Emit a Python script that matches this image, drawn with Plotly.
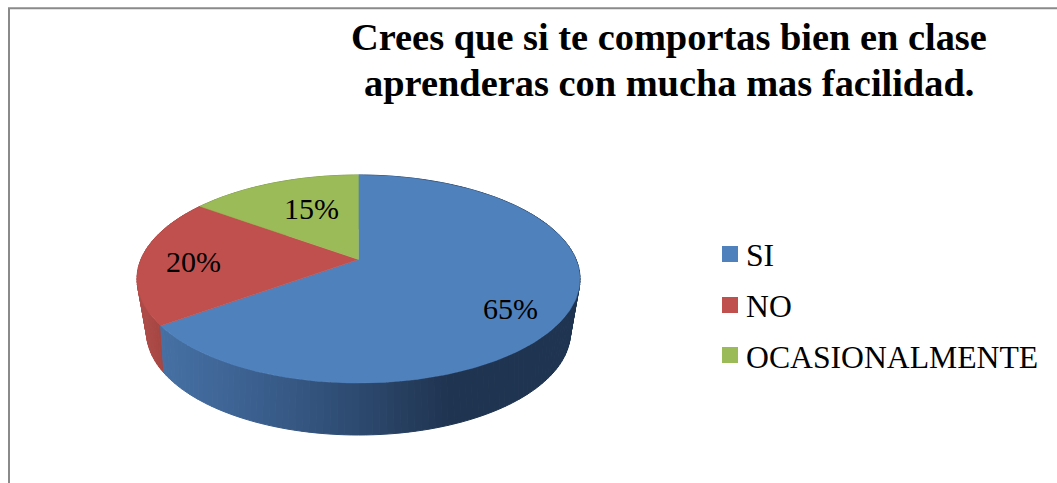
import numpy as np
import plotly.graph_objects as go

categorias = ["SI", "NO", "OCASIONALMENTE"]
valores = [65, 20, 15]
colores = ["#4f81bd", "#c0504d", "#9bbb59"]
titulo = ["Crees que si te comportas bien en clase", "aprenderas con mucha mas facilidad."]

# geometria del pastel 3d (pixeles de la pagina)
cx = 358.5
sup = dict(cy=279, rx=221.5, ry=104, k=0.1875)
inf = dict(cy=332, rx=212, ry=103, k=0.25)
pos_etiquetas = [(510, 308), (193, 261), (311, 208)]
pos_titulo = [(669, 37), (669, 83)]
pos_cuadros = [(730, 254), (730, 305), (730, 355)]
pos_leyenda = [(744, 255), (744, 306), (744, 357)]

# degradado de la pared lateral segun x
paredes = [
    ([165, 250, 350, 450, 580], ["#4670a3", "#3c6191", "#2e4c72", "#203450", "#1f3552"]),
    ([137, 165], ["#b14e4b", "#a44542"]),
    ([137, 358], ["#7f9a49", "#7f9a49"]),
]


def proyectar(theta, e):
    # theta en grados, horario desde arriba; perspectiva que lleva el centro al vertice
    u, v = np.sin(np.radians(theta)), np.cos(np.radians(theta))
    d = 1 + e["k"] * v
    x = cx + e["rx"] * np.sqrt(1 - e["k"] ** 2) * u / d
    y = e["cy"] - e["ry"] * (v + e["k"]) / d
    return x, y


def color_en(x, pared):
    xs, cols = pared
    rgb = [[int(c[i:i + 2], 16) for c in cols] for i in (1, 3, 5)]
    return "rgb(%d,%d,%d)" % tuple(np.interp(x, xs, canal) for canal in rgb)


fig = go.Figure()

total = sum(valores)
limites = np.concatenate([[0], np.cumsum(valores) / total * 360])

# paredes, de atras hacia adelante
for i in [2, 1, 0]:
    angulos = np.arange(limites[i], limites[i + 1], 1.5).tolist() + [limites[i + 1]]
    for a, b in zip(angulos[:-1], angulos[1:]):
        x1, y1 = proyectar(a, sup)
        x2, y2 = proyectar(b, sup)
        x3, y3 = proyectar(b, inf)
        x4, y4 = proyectar(a, inf)
        col = color_en((x1 + x2 + x3 + x4) / 4, paredes[i])
        fig.add_trace(go.Scatter(x=[x1, x2, x3, x4, x1], y=[y1, y2, y3, y4, y1], mode="lines",
                                 fill="toself", fillcolor=col, line=dict(color=col, width=1),
                                 hoverinfo="skip", showlegend=False))

# cara superior
vy = sup["cy"] - sup["ry"] * sup["k"]
for i in range(3):
    angulos = np.arange(limites[i], limites[i + 1], 1).tolist() + [limites[i + 1]]
    xs, ys = proyectar(np.array(angulos), sup)
    fig.add_trace(go.Scatter(x=[cx] + xs.tolist() + [cx], y=[vy] + ys.tolist() + [vy],
                             mode="lines", fill="toself", fillcolor=colores[i],
                             line=dict(color=colores[i], width=0.5),
                             name=categorias[i], hoverinfo="name", showlegend=False))

# leyenda dibujada a mano: la nativa deja 5 px de mas entre cuadro y texto
for i in range(3):
    fig.add_trace(go.Scatter(x=[pos_cuadros[i][0]], y=[pos_cuadros[i][1]], mode="markers",
                             marker=dict(symbol="square", size=16, color=colores[i]),
                             name=categorias[i], hoverinfo="name", showlegend=False))
    fig.add_annotation(x=pos_leyenda[i][0], y=pos_leyenda[i][1], text=categorias[i], showarrow=False,
                       xanchor="left", font=dict(size=31.7, color="black"))

# etiquetas de porcentaje
for v, (px, py) in zip(valores, pos_etiquetas):
    fig.add_annotation(x=px, y=py, text="%d%%" % round(v / total * 100), showarrow=False,
                       font=dict(size=30, color="black"))

# titulo, una anotacion por linea para fijar el interlineado
for linea, (px, py) in zip(titulo, pos_titulo):
    fig.add_annotation(x=px, y=py, text=linea, showarrow=False,
                       font=dict(size=38.4, color="black", weight="bold"))

# marco del grafico
fig.add_shape(type="rect", x0=9, y0=8.3, x1=1100, y1=520, line=dict(color="#8a8a8a", width=2),
              fillcolor="rgba(0,0,0,0)", layer="below")

fig.update_layout(
    width=1057,
    height=483,
    margin=dict(l=0, r=0, t=0, b=0),
    paper_bgcolor="white",
    plot_bgcolor="white",
    font=dict(family="Liberation Serif", color="black"),
    xaxis=dict(range=[0, 1057], visible=False, fixedrange=True),
    yaxis=dict(range=[483, 0], visible=False, fixedrange=True),
    showlegend=False,
)

fig.write_html("out.html", config=dict(displayModeBar=False),
               post_script="document.body.style.margin='0';document.body.style.overflow='hidden';")
